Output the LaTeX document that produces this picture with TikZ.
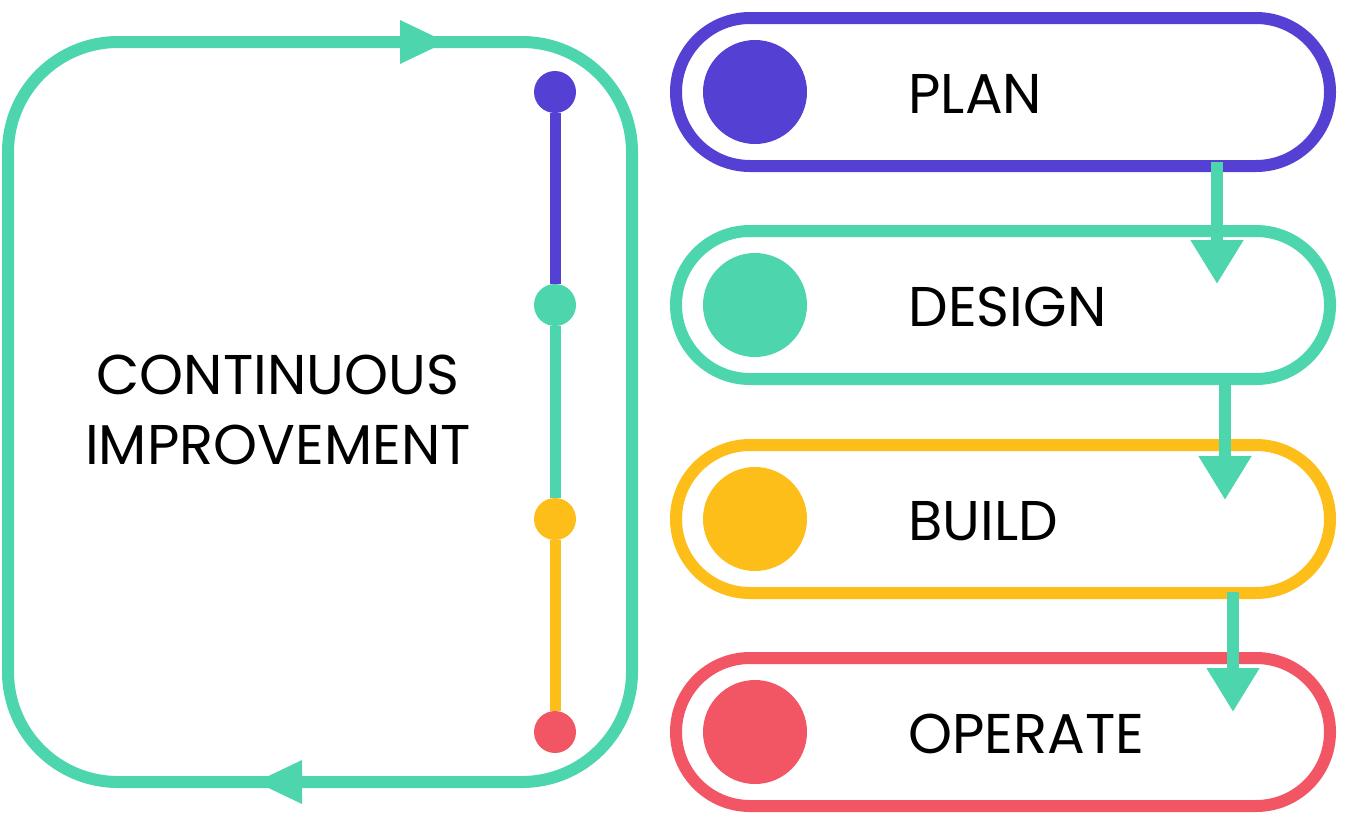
\documentclass[tikz,border=0pt]{standalone}
\usepackage{fontspec}
\setmainfont{Poppins}
\usetikzlibrary{arrows.meta}
\definecolor{cpur}{HTML}{5540D4}
\definecolor{cgrn}{HTML}{4DD6AD}
\definecolor{cyel}{HTML}{FDBE1A}
\definecolor{cred}{HTML}{F25664}
\begin{document}
\begin{tikzpicture}[x=1pt,y=-1pt,
  pill/.style={draw=#1,line width=12pt,rounded corners=74pt,minimum width=654pt,minimum height=148pt,fill=white},
  dot/.style={circle,fill,inner sep=0pt,minimum size=104pt},
  sdot/.style={circle,fill,inner sep=0pt,minimum size=42pt},
  lbl/.style={anchor=west,font=\fontsize{56}{60}\selectfont},
  flow/.style={cgrn,line width=12pt,-{Triangle[length=44pt,width=50pt]}}]
\useasboundingbox (0,0) rectangle (1346,828);
% loop
\draw[cgrn,line width=12pt,rounded corners=110pt] (8,42) rectangle (632,782);
\coordinate (ta) at (400,42); \coordinate (tb) at (446,42);
\coordinate (ba) at (300,782); \coordinate (bb) at (256,782);
\draw[cgrn,line width=0pt,-{Triangle[length=46pt,width=44pt]}] (ta) -- (tb);
\draw[cgrn,line width=0pt,-{Triangle[length=46pt,width=44pt]}] (ba) -- (bb);
\node[align=center,font=\fontsize{56}{70}\selectfont] (ci) at (278,410) {CONTINUOUS\\IMPROVEMENT};
% timeline
\node[sdot,cpur] (d1) at (555,92) {};
\node[sdot,cgrn] (d2) at (555,305) {};
\node[sdot,cyel] (d3) at (555,519) {};
\node[sdot,cred] (d4) at (555,732) {};
\draw[cpur,line width=11pt] (d1) -- (d2);
\draw[cgrn,line width=11pt] (d2) -- (d3);
\draw[cyel,line width=11pt] (d3) -- (d4);
% pills
\node[pill=cpur] (p1) at (1003,92) {};
\node[pill=cgrn] (p2) at (1003,305) {};
\node[pill=cyel] (p3) at (1003,519) {};
\node[pill=cred] (p4) at (1003,732) {};
\node[dot,cpur] (c1) at (755,92) {};
\node[dot,cgrn] (c2) at (755,305) {};
\node[dot,cyel] (c3) at (755,519) {};
\node[dot,cred] (c4) at (755,732) {};
\node[lbl] (l1) at (905,94) {PLAN};
\node[lbl] (l2) at (905,307) {DESIGN};
\node[lbl] (l3) at (905,521) {BUILD};
\node[lbl] (l4) at (905,734) {OPERATE};
% flow arrows
\coordinate (a1) at (1217,162); \coordinate (b1) at (1217,284);
\coordinate (a2) at (1225,385); \coordinate (b2) at (1225,500);
\coordinate (a3) at (1233,592); \coordinate (b3) at (1233,712);
\draw[flow] (a1) -- (b1);
\draw[flow] (a2) -- (b2);
\draw[flow] (a3) -- (b3);
\end{tikzpicture}
\end{document}
